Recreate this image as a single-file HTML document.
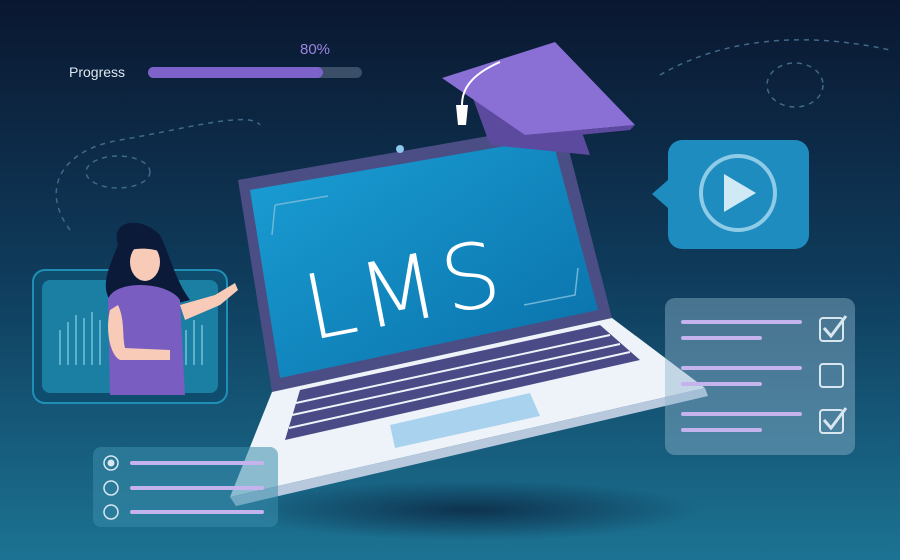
<!DOCTYPE html>
<html><head><meta charset="utf-8"><style>
html,body{margin:0;padding:0;width:900px;height:560px;overflow:hidden;background:#0b1d38}
svg{display:block}
</style></head><body>
<svg width="900" height="560" viewBox="0 0 900 560" xmlns="http://www.w3.org/2000/svg">
<defs>
<linearGradient id="bg" x1="0" y1="0" x2="0" y2="1">
<stop offset="0" stop-color="#0a1730"/><stop offset="0.5" stop-color="#0f3c5c"/><stop offset="1" stop-color="#1c7393"/>
</linearGradient>
<linearGradient id="scr" x1="0" y1="0" x2="1" y2="1">
<stop offset="0" stop-color="#1aa0d6"/><stop offset="1" stop-color="#0a6fa8"/>
</linearGradient>
<radialGradient id="sh" cx="0.5" cy="0.5" r="0.5"><stop offset="0" stop-color="#0a2540" stop-opacity="0.8"/><stop offset="1" stop-color="#0a2540" stop-opacity="0"/></radialGradient>
</defs>
<rect width="900" height="560" fill="url(#bg)"/>
<path d="M70 230 C40 190 60 150 120 140 C180 130 250 110 260 125" fill="none" stroke="#3f6a8a" stroke-width="1.5" stroke-dasharray="5 5"/>
<ellipse cx="118" cy="172" rx="32" ry="16" fill="none" stroke="#3f6a8a" stroke-width="1.5" stroke-dasharray="5 5"/>
<path d="M660 75 C720 40 800 30 890 50" fill="none" stroke="#3f6a8a" stroke-width="1.5" stroke-dasharray="5 5"/>
<ellipse cx="795" cy="85" rx="28" ry="22" fill="none" stroke="#3f6a8a" stroke-width="1.5" stroke-dasharray="5 5"/>
<text x="69" y="77" font-family="Liberation Sans,sans-serif" font-size="14" fill="#dfe6f0">Progress</text>
<text x="300" y="54" font-family="Liberation Sans,sans-serif" font-size="15" fill="#9a86e0">80%</text>
<rect x="148" y="67" width="214" height="11" rx="5.5" fill="#3b4f68"/>
<rect x="148" y="67" width="175" height="11" rx="5.5" fill="#7d63c9"/>
<ellipse cx="470" cy="510" rx="230" ry="30" fill="url(#sh)"/>
<rect x="33" y="270" width="194" height="133" rx="12" fill="#0f4d6e" stroke="#1f8fb5" stroke-width="2"/>
<rect x="42" y="280" width="176" height="113" rx="8" fill="#1b7ea3"/>
<g stroke="#5fb0cc" stroke-width="2">
<line x1="60" y1="330" x2="60" y2="365"/><line x1="68" y1="322" x2="68" y2="365"/><line x1="76" y1="315" x2="76" y2="365"/><line x1="84" y1="318" x2="84" y2="365"/><line x1="92" y1="312" x2="92" y2="365"/><line x1="100" y1="320" x2="100" y2="365"/>
<line x1="186" y1="330" x2="186" y2="365"/><line x1="194" y1="320" x2="194" y2="365"/><line x1="202" y1="325" x2="202" y2="365"/>
</g>
<path d="M118 245 C110 220 140 215 160 235 C170 255 175 280 190 300 L170 305 L110 300 C100 285 110 265 118 245Z" fill="#0c1a3a"/>
<path d="M108 300 C110 290 125 285 140 285 C160 285 175 292 180 300 L185 395 L110 395Z" fill="#7a5dc0"/>
<ellipse cx="145" cy="262" rx="15" ry="19" fill="#f7cbb7"/>
<path d="M130 250 C135 232 160 232 162 252 C150 248 140 248 130 250Z" fill="#0c1a3a"/>
<path d="M180 305 L215 295 L235 283 L238 290 L220 305 L185 320Z" fill="#f7cbb7"/>
<path d="M110 310 C105 330 110 355 120 360 L170 360 L170 350 L125 348 C122 335 125 320 118 305Z" fill="#f7cbb7"/>
<polygon points="238,180 562,123 612,318 272,392" fill="#4b4e85"/>
<polygon points="250,190 552,138 598,310 280,378" fill="url(#scr)"/>
<circle cx="400" cy="149" r="4" fill="#8ec7ea"/>
<path d="M275 205 L272 235 M275 205 L328 196" stroke="#6fb5d8" stroke-width="1.5" fill="none"/>
<path d="M578 268 L575 295 L524 305" stroke="#6fb5d8" stroke-width="1.5" fill="none"/>
<text x="298" y="318" font-family="DejaVu Sans,sans-serif" font-weight="200" font-size="90" fill="#ffffff" transform="rotate(-11 420 260)" letter-spacing="6">LMS</text>
<polygon points="272,392 612,318 705,388 230,497" fill="#eef3fa"/>
<polygon points="230,497 705,388 708,396 236,506" fill="#b8c9de"/>
<polygon points="300,390 600,325 640,360 285,440" fill="#4a4a86"/>
<g stroke="#eef3fa" stroke-width="2">
<line x1="296" y1="403" x2="610" y2="335"/><line x1="292" y1="415" x2="620" y2="344"/><line x1="289" y1="428" x2="630" y2="352"/>
</g>
<polygon points="390,425 530,393 540,416 395,448" fill="#a9d2ee"/>
<polygon points="470,90 560,70 590,155 490,145" fill="#5c4a9e"/>
<polygon points="442,78 555,42 635,125 525,135" fill="#8a6fd4"/>
<polygon points="525,135 635,125 630,130 528,140" fill="#5d4aa0"/>
<path d="M500 62 C470 75 462 90 462 105" stroke="#ffffff" stroke-width="2" fill="none"/>
<path d="M456 105 L468 105 L466 125 L458 125Z" fill="#fff"/>
<rect x="668" y="140" width="141" height="109" rx="14" fill="#1e8cbf"/>
<polygon points="668,180 652,194 668,208" fill="#1e8cbf"/>
<circle cx="738" cy="193" r="37" fill="none" stroke="#8ecbe6" stroke-width="4"/>
<polygon points="724,174 724,212 756,193" fill="#cfe9f5"/>
<rect x="665" y="298" width="190" height="157" rx="10" fill="#8fb3cc" fill-opacity="0.45"/>
<g stroke="#c4b3ec" stroke-width="4" stroke-linecap="round">
<line x1="683" y1="322" x2="800" y2="322"/><line x1="683" y1="338" x2="760" y2="338"/>
<line x1="683" y1="368" x2="800" y2="368"/><line x1="683" y1="384" x2="760" y2="384"/>
<line x1="683" y1="414" x2="800" y2="414"/><line x1="683" y1="430" x2="760" y2="430"/>
</g>
<g fill="none" stroke="#d8e6f0" stroke-width="2">
<rect x="820" y="318" width="23" height="23" rx="3"/><rect x="820" y="364" width="23" height="23" rx="3"/><rect x="820" y="410" width="23" height="23" rx="3"/>
</g>
<path d="M824 328 L831 336 L846 316" stroke="#d8e6f0" stroke-width="3" fill="none"/>
<path d="M824 420 L831 428 L846 408" stroke="#d8e6f0" stroke-width="3" fill="none"/>
<rect x="93" y="447" width="185" height="80" rx="8" fill="#3a8cab" fill-opacity="0.55"/>
<g fill="none" stroke="#d8e6f0" stroke-width="1.5">
<circle cx="111" cy="463" r="7"/><circle cx="111" cy="488" r="7"/><circle cx="111" cy="512" r="7"/>
</g>
<circle cx="111" cy="463" r="3.5" fill="#d8e6f0"/>
<g stroke="#c4b3ec" stroke-width="4" stroke-linecap="round">
<line x1="132" y1="463" x2="262" y2="463"/><line x1="132" y1="488" x2="262" y2="488"/><line x1="132" y1="512" x2="262" y2="512"/>
</g>
</svg>
</body></html>
